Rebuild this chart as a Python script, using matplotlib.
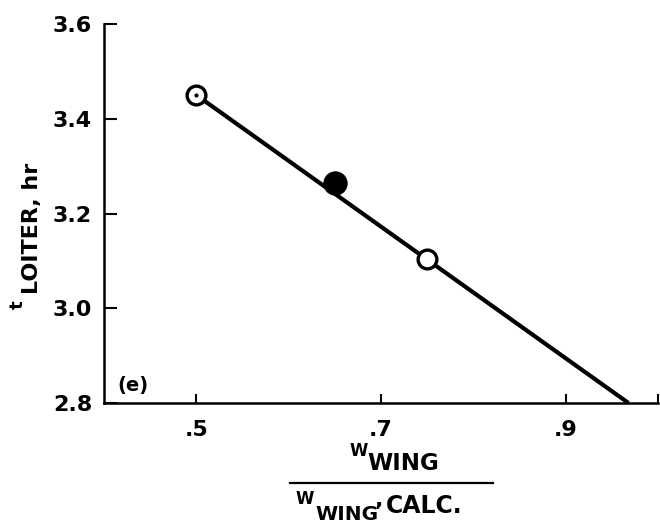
import matplotlib
matplotlib.use("Agg")
import matplotlib.pyplot as plt
from matplotlib.lines import Line2D

# wing weight ratio vs loiter time
line_x = [0.50, 0.968]
line_y = [3.45, 2.80]
open_x = [0.50, 0.75]
open_y = [3.45, 3.105]
solid_x = [0.65]
solid_y = [3.265]

xticks = [0.5, 0.7, 0.9]
xticklabels = [".5", ".7", ".9"]
yticks = [2.8, 3.0, 3.2, 3.4, 3.6]
yticklabels = ["2.8", "3.0", "3.2", "3.4", "3.6"]

plt.rcParams["font.family"] = "DejaVu Sans"
plt.rcParams["font.weight"] = "bold"

W, H = 660, 527
fig = plt.figure(figsize=(W / 100, H / 100), dpi=100)
ax = fig.add_axes([104 / W, 1 - 403 / H, (658 - 104) / W, (403 - 24) / H])


def px(x, y):
    return x / W, 1 - y / H


ax.plot(line_x, line_y, color="black", lw=3.0, solid_capstyle="butt", zorder=2)
ax.plot(open_x, open_y, ls="none", marker="o", ms=13.5, mfc="white",
        mec="black", mew=2.4, zorder=3)
ax.plot(solid_x, solid_y, ls="none", marker="o", ms=17, mfc="black",
        mec="black", mew=0.5, zorder=3)
# centre dot in the first open circle
ax.plot(open_x[:1], open_y[:1], ls="none", marker="o", ms=2, color="black", zorder=4)

ax.set_xlim(0.4, 1.0)
ax.set_ylim(2.8, 3.6)
ax.set_xticks(xticks + [1.0])
ax.set_xticklabels(xticklabels + [""])
ax.set_yticks(yticks)
ax.set_yticklabels(yticklabels)

for s in ["top", "right"]:
    ax.spines[s].set_visible(False)
for s in ["left", "bottom"]:
    ax.spines[s].set_linewidth(1.8)

ax.tick_params(axis="x", direction="in", length=6.5, width=1.5, pad=12, labelsize=16)
ax.tick_params(axis="y", direction="in", length=9, width=1.5, pad=8.6, labelsize=16)
for lab in ax.get_xticklabels() + ax.get_yticklabels():
    lab.set_fontweight("bold")

ax.text(0.415, 2.825, "(e)", fontsize=14, fontweight="bold", ha="left", va="baseline")

# y label: t sub LOITER, hr
fig.text(*px(23, 309), "t", fontsize=13, fontweight="bold", rotation=90,
         rotation_mode="anchor", ha="left", va="baseline")
fig.text(*px(38, 294), "LOITER, hr", fontsize=16, fontweight="bold", rotation=90,
         rotation_mode="anchor", ha="left", va="baseline")

# x label as a fraction
fig.text(*px(349, 456), "W", fontsize=12, fontweight="bold", ha="left", va="baseline")
fig.text(*px(367, 470), "WING", fontsize=16.5, fontweight="bold", ha="left", va="baseline")
x0, y0 = px(290, 483)
x1, _ = px(493, 483)
fig.add_artist(Line2D([x0, x1], [y0, y0], color="black", lw=1.6, transform=fig.transFigure))
fig.text(*px(296, 504), "W", fontsize=12, fontweight="bold", ha="left", va="baseline")
fig.text(*px(315, 520), "WING", fontsize=14.5, fontweight="bold", ha="left", va="baseline")
fig.text(*px(375, 506), ",", fontsize=16, fontweight="bold", ha="left", va="baseline")
fig.text(*px(386, 513), "CALC.", fontsize=17, fontweight="bold", ha="left", va="baseline")

fig.savefig("out.png", dpi=100, facecolor="white")
